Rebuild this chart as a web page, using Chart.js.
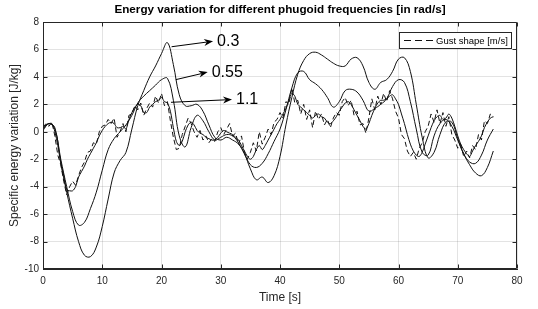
<!DOCTYPE html>
<html><head><meta charset="utf-8">
<script src="https://cdn.jsdelivr.net/npm/chart.js@4.4.0/dist/chart.umd.min.js"></script>
<style>html,body{margin:0;padding:0;background:#fff;}#wrap{width:538px;height:309px;}</style>
</head><body><div id="wrap"><canvas id="c" width="538" height="309"></canvas></div>
<script>
// ---- data ----
const titleText = 'Energy variation for different phugoid frequencies [in rad/s]';
const xLabel = 'Time [s]';
const yLabel = 'Specific energy variation [J/kg]';
const gustLabel = 'Gust shape [m/s]';
const xTicks = [0,10,20,30,40,50,60,70,80];
const yTicks = [-10,-8,-6,-4,-2,0,2,4,6,8];

// sample times (s), 1 s grid for the slow responses
const tSec = [0,1,2,3,4,5,6,7,8,9,10,11,12,13,14,15,16,17,18,19,20,21,22,23,24,25,26,27,28,29,30,31,32,33,34,35,36,37,38,39,40,41,42,43,44,45,46,47,48,49,50,51,52,53,54,55,56,57,58,59,60,61,62,63,64,65,66,67,68,69,70,71,72,73,74,75,76];
// phugoid 0.3 rad/s
const e03 = [0.1,0.6,0.3,-2.3,-4.4,-6.3,-8.0,-9.0,-9.1,-8.4,
 -6.9,-4.9,-3.0,-2.1,-1.5,0.2,1.9,3.0,4.0,4.8,
 5.7,6.5,4.9,2.7,1.9,1.9,2.0,1.5,0.5,-0.4,
 -0.6,-0.4,-0.6,-0.9,-1.6,-2.7,-3.5,-3.3,-3.7,-3.2,
 -1.8,0.5,2.5,4.2,5.2,5.7,5.8,5.6,5.3,5.0,
 4.8,4.8,5.3,5.4,4.8,3.6,3.1,3.6,3.8,4.4,
 5.3,5.4,4.4,2.0,-0.4,-1.9,-1.5,-0.2,0.7,0.7,
 -0.5,-1.6,-2.4,-3.0,-3.2,-2.6,-1.4];
// phugoid 0.55 rad/s
const e055 = [0.2,0.6,0.2,-2.0,-4.0,-5.8,-6.8,-6.6,-5.6,-4.4,
 -2.8,-1.3,-0.5,0.0,0.5,1.2,2.1,2.6,3.0,3.4,
 3.8,3.9,2.3,-0.3,-1.1,0.3,1.2,0.8,0.0,-0.6,
 -0.4,-0.2,-0.3,-0.8,-1.6,-2.4,-2.6,-2.3,-1.6,-0.7,
 0.2,1.6,3.2,4.3,4.4,3.8,3.5,3.1,2.5,1.8,
 2.2,3.0,3.1,2.9,2.3,1.5,1.7,2.0,2.4,3.3,
 3.8,3.6,2.2,0.2,-1.5,-1.7,-0.3,0.6,0.9,0.4,
 -0.6,-1.6,-2.2,-2.3,-1.7,-0.6,0.2];

// 0.5 s grid for the fast response and the gust
const tHalf = [0,0.5,1,1.5,2,2.5,3,3.5,4,4.5,5,5.5,6,6.5,7,7.5,8,8.5,9,9.5,
 10,10.5,11,11.5,12,12.5,13,13.5,14,14.5,15,15.5,16,16.5,17,17.5,18,18.5,19,19.5,
 20,20.5,21,21.5,22,22.5,23,23.5,24,24.5,25,25.5,26,26.5,27,27.5,28,28.5,29,29.5,
 30,30.5,31,31.5,32,32.5,33,33.5,34,34.5,35,35.5,36,36.5,37,37.5,38,38.5,39,39.5,
 40,40.5,41,41.5,42,42.5,43,43.5,44,44.5,45,45.5,46,46.5,47,47.5,48,48.5,49,49.5,
 50,50.5,51,51.5,52,52.5,53,53.5,54,54.5,55,55.5,56,56.5,57,57.5,58,58.5,59,59.5,
 60,60.5,61,61.5,62,62.5,63,63.5,64,64.5,65,65.5,66,66.5,67,67.5,68,68.5,69,69.5,
 70,70.5,71,71.5,72,72.5,73,73.5,74,74.5,75,75.5,76];
// phugoid 1.1 rad/s
const e11 = [0.2,0.5,0.6,0.6,0.0,-1.0,-2.2,-3.2,-4.2,-4.3,
 -4.3,-4.0,-3.3,-2.9,-2.5,-2.0,-1.6,-1.2,-0.8,-0.3,
 0.1,0.4,0.6,0.7,0.6,0.3,0.3,0.4,0.2,0.9,
 1.4,1.8,2.0,1.9,1.4,1.4,1.8,2.0,2.2,2.3,
 2.5,2.2,2.1,1.5,0.3,-0.7,-1.0,-0.7,0.0,0.5,
 0.7,0.5,0.1,-0.1,-0.2,-0.4,-0.5,-0.6,-0.6,-0.4,
 -0.1,0.1,0.0,-0.1,-0.2,-0.4,-0.6,-1.0,-1.4,-1.8,
 -2.0,-1.8,-1.3,-1.0,-1.3,-1.0,-0.6,-0.2,0.2,0.6,
 0.9,1.3,1.7,2.3,2.8,2.6,2.0,1.8,1.6,1.4,
 1.2,1.0,1.2,1.3,1.1,1.0,0.7,0.6,0.8,1.1,
 1.5,1.8,2.1,2.2,2.0,1.6,1.2,0.8,0.4,0.2,
 0.6,1.2,1.7,2.1,2.3,2.3,2.4,2.6,2.7,2.4,
 2.0,1.3,0.6,-0.2,-0.9,-1.4,-1.7,-1.8,-1.5,-0.9,
 -0.3,0.3,0.8,1.1,1.2,0.9,1.0,1.3,1.0,0.4,
 -0.3,-0.9,-1.3,-1.6,-1.8,-1.4,-1.0,-0.7,-0.3,0.3,
 0.7,1.0,1.1];
// gust shape [m/s]
const gust = [0.3,0.6,0.4,0.7,-0.3,-1.7,-2.4,-3.6,-4.6,-4.0,
 -3.6,-3.9,-3.2,-2.6,-2.2,-1.5,-1.4,-0.8,-0.9,0.0,
 0.4,0.5,0.9,0.6,1.0,-0.4,0.0,0.6,0.0,1.2,
 1.3,1.9,1.6,2.1,1.2,1.7,2.1,1.8,2.6,2.1,
 2.8,1.9,2.2,0.8,-0.4,-1.3,-1.2,-0.2,0.4,1.0,
 0.6,0.0,-0.4,0.1,-0.6,-0.3,-0.8,-0.5,-0.7,0.0,
 0.3,-0.2,0.2,0.6,-0.3,-0.1,-0.9,-0.3,-1.5,-2.0,
 -1.5,-0.8,-1.4,0.0,-0.9,-0.4,0.2,-0.2,0.7,0.9,
 1.4,1.0,2.2,2.0,3.2,2.1,2.3,1.3,2.0,0.9,
 1.6,0.3,1.5,0.9,1.3,0.5,0.9,0.3,1.0,1.4,
 1.2,2.2,2.5,1.9,2.3,1.2,1.5,0.5,0.6,-0.1,
 1.0,2.4,1.6,2.6,2.0,2.8,2.2,3.0,2.4,1.5,
 1.0,-0.2,-0.5,-1.4,-1.8,-1.5,-2.0,-1.2,-0.8,0.0,
 0.4,1.3,0.7,1.6,0.6,1.4,0.4,1.1,-0.2,-0.6,
 -1.2,-0.9,-1.8,-1.4,-1.9,-1.0,-1.3,-0.2,-0.6,0.8,
 0.6,1.3,1.1];

// arrow annotations: label, tail [t, y], head [t, y]
const annLabels = ['0.3','0.55','1.1'];
const annTail = [[21.7,6.2],[22.4,3.8],[21.6,2.15]];
const annHead = [[28.7,6.6],[27.8,4.35],[31.9,2.35]];

// ---- drawing ----
const FONT = "'Liberation Sans', Arial, Helvetica, sans-serif";
const INK = '#262626';
const LINE = '#111111';
const pts = (xs, ys) => xs.map((x, i) => ({x: x, y: ys[i]}));

const framePlugin = {
  id: 'frame',
  afterDatasetsDraw(chart) {
    const {ctx, chartArea: a, scales: {x, y}} = chart;
    ctx.save();
    ctx.strokeStyle = INK; ctx.lineWidth = 1;
    const L = Math.round(a.left) + 0.5, R = Math.round(a.right) - 0.5;
    const T = Math.round(a.top) + 0.5, B = Math.round(a.bottom) - 0.5;
    ctx.beginPath();
    ctx.moveTo(L, T); ctx.lineTo(R, T); ctx.lineTo(R, B); ctx.lineTo(L, B); ctx.closePath();
    xTicks.forEach(v => {
      const px = Math.round(x.getPixelForValue(v)) + 0.5;
      ctx.moveTo(px, B); ctx.lineTo(px, B - 4);
      ctx.moveTo(px, T); ctx.lineTo(px, T + 4);
    });
    yTicks.forEach(v => {
      const py = Math.round(y.getPixelForValue(v)) + 0.5;
      ctx.moveTo(L, py); ctx.lineTo(L + 4, py);
      ctx.moveTo(R, py); ctx.lineTo(R - 4, py);
    });
    ctx.stroke();
    ctx.restore();
  }
};

const annotPlugin = {
  id: 'annot',
  afterDraw(chart) {
    const {ctx, chartArea: a, scales: {x, y}} = chart;
    ctx.save();
    // arrows + labels
    annLabels.forEach((lab, i) => {
      const x0 = x.getPixelForValue(annTail[i][0]), y0 = y.getPixelForValue(annTail[i][1]);
      const x1 = x.getPixelForValue(annHead[i][0]), y1 = y.getPixelForValue(annHead[i][1]);
      const ang = Math.atan2(y1 - y0, x1 - x0);
      const hl = 9, hw = 3.5;
      ctx.strokeStyle = '#000'; ctx.fillStyle = '#000'; ctx.lineWidth = 1;
      ctx.beginPath();
      ctx.moveTo(x0, y0);
      ctx.lineTo(x1 - hl * 0.7 * Math.cos(ang), y1 - hl * 0.7 * Math.sin(ang));
      ctx.stroke();
      const bx = x1 - hl * Math.cos(ang), by = y1 - hl * Math.sin(ang);
      const nx = -Math.sin(ang), ny = Math.cos(ang);
      ctx.beginPath();
      ctx.moveTo(x1, y1);
      ctx.lineTo(bx + nx * hw, by + ny * hw);
      ctx.lineTo(x1 - hl * 0.7 * Math.cos(ang), y1 - hl * 0.7 * Math.sin(ang));
      ctx.lineTo(bx - nx * hw, by - ny * hw);
      ctx.closePath();
      ctx.fill();
      ctx.font = '16px ' + FONT;
      ctx.textBaseline = 'middle'; ctx.textAlign = 'left';
      ctx.fillText(lab, x1 + 4, y1);
    });
    // legend box
    const bw = 112, bh = 16;
    const bxL = Math.round(a.right) - 6 - bw, byT = Math.round(a.top) + 10;
    ctx.fillStyle = '#fff';
    ctx.fillRect(bxL, byT, bw, bh);
    ctx.strokeStyle = INK; ctx.lineWidth = 1;
    ctx.strokeRect(bxL + 0.5, byT + 0.5, bw, bh);
    ctx.strokeStyle = LINE;
    ctx.setLineDash([7, 4]);
    ctx.beginPath();
    ctx.moveTo(bxL + 5, byT + bh / 2 + 0.5); ctx.lineTo(bxL + 34, byT + bh / 2 + 0.5);
    ctx.stroke();
    ctx.setLineDash([]);
    ctx.fillStyle = '#000';
    ctx.font = '9.5px ' + FONT;
    ctx.textBaseline = 'middle'; ctx.textAlign = 'left';
    ctx.fillText(gustLabel, bxL + 37, byT + bh / 2 + 1);
    ctx.restore();
  }
};

const common = {pointRadius: 0, borderColor: LINE, borderWidth: 1, fill: false};

new Chart(document.getElementById('c').getContext('2d'), {
  type: 'line',
  data: {
    datasets: [
      Object.assign({label: '0.3', data: pts(tSec, e03), tension: 0.4}, common),
      Object.assign({label: '0.55', data: pts(tSec, e055), tension: 0.4}, common),
      Object.assign({label: '1.1', data: pts(tHalf, e11), tension: 0.3}, common),
      Object.assign({label: gustLabel, data: pts(tHalf, gust), tension: 0, borderDash: [5, 3]}, common)
    ]
  },
  options: {
    responsive: false, animation: false, devicePixelRatio: 1,
    layout: {padding: {left: 0, right: 21, top: 3, bottom: 0}},
    plugins: {
      legend: {display: false},
      tooltip: {enabled: false},
      title: {display: true, text: titleText, fullSize: false, color: '#000',
        font: {family: FONT, size: 11.7, weight: 'bold'}, padding: {top: 0, bottom: 5}}
    },
    scales: {
      x: {
        type: 'linear', min: 0, max: 80,
        afterBuildTicks(s) { s.ticks = xTicks.map(v => ({value: v})); },
        ticks: {font: {family: FONT, size: 10}, color: INK, padding: 6, maxRotation: 0},
        grid: {color: 'rgba(38,38,38,0.13)', drawTicks: false},
        border: {color: INK},
        title: {display: true, text: xLabel, color: INK, font: {family: FONT, size: 12}, padding: {top: 0, bottom: 4}},
        afterFit(s) { s.height = 40; }
      },
      y: {
        type: 'linear', min: -10, max: 8,
        afterBuildTicks(s) { s.ticks = yTicks.map(v => ({value: v})); },
        ticks: {font: {family: FONT, size: 10}, color: INK, padding: 4},
        grid: {color: 'rgba(38,38,38,0.13)', drawTicks: false},
        border: {color: INK},
        title: {display: true, text: yLabel, color: INK, font: {family: FONT, size: 12}, padding: {top: 7, bottom: 0}},
        afterFit(s) { s.width = 43; }
      }
    }
  },
  plugins: [framePlugin, annotPlugin]
});
</script>
</body></html>
